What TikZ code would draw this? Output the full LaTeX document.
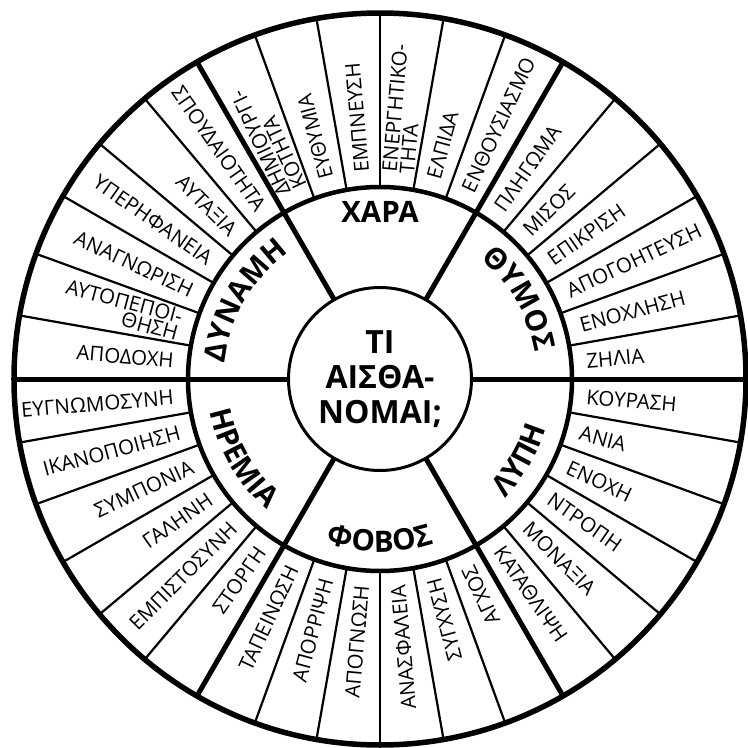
\documentclass[tikz,border=0pt]{standalone}
\usepackage{fontspec}
\setmainfont{Open Sans}
\usetikzlibrary{decorations.text}
\newcommand\midlabfont{\bfseries\fontsize{29.5}{29.5}\selectfont}
\tikzset{
  wedgetxt/.style={font=\fontsize{20.5}{17.5}\selectfont, inner sep=0pt, text=black},
  outtxt/.style={wedgetxt, anchor=west, align=left},
  intxt/.style={wedgetxt, anchor=east, align=right},
  majorline/.style={line width=5pt, black},
  minorline/.style={line width=2.2pt, black},
  midlab/.style={font=\midlabfont, inner sep=0pt},
  toplab/.style={decorate, decoration={text along path, text align=center, text={|\midlabfont|#1}}},
}
\begin{document}
\begin{tikzpicture}[x=1pt,y=1pt]
\useasboundingbox (-380,-369) rectangle (368,379);
\fill[white] (-380,-369) rectangle (368,379);
% minor dividers
\foreach \a in {10,20,30,40,50,70,80,90,100,110,130,140,150,160,170,190,200,210,220,230,250,260,270,280,290,310,320,330,340,350}
  \draw[minorline] (\a:192) -- (\a:366);
% major dividers
\foreach \a in {0,60,120,180,240,300}
  \draw[majorline] (\a:91) -- (\a:366);
% rings
\draw[line width=5.5pt] (0,0) circle[radius=366];
\draw[line width=4.5pt] (0,0) circle[radius=192];
\node[circle, draw, line width=3pt, fill=white, minimum size=183pt, inner sep=0pt, align=center,
      font=\bfseries\fontsize{32}{35}\selectfont] (hub) at (0,0) {ΤΙ\\ΑΙΣΘΑ-\\ΝΟΜΑΙ;};
% middle ring labels
\node[midlab] (chara) at (90:167) {ΧΑΡΑ};
\path[toplab=ΘΥΜΟΣ] (58:157) arc[start angle=58, end angle=2, radius=157];
\path[toplab=ΔΥΝΑΜΗ] (178:156) arc[start angle=178, end angle=122, radius=156];
\path[toplab=ΛΥΠΗ] (-58:173) arc[start angle=-58, end angle=-2, radius=173];
\path[toplab=ΦΟΒΟΣ] (242:173) arc[start angle=242, end angle=298, radius=173];
\path[toplab=ΗΡΕΜΙΑ] (182:173) arc[start angle=182, end angle=238, radius=173];
% ΘΥΜΟΣ
\node[outtxt, rotate=5] (w5) at (5:207) {ΖΗΛΙΑ};
\node[outtxt, rotate=15] (w15) at (15:207) {ΕΝΟΧΛΗΣΗ};
\node[outtxt, rotate=25] (w25) at (25:207) {ΑΠΟΓΟΗΤΕΥΣΗ};
\node[outtxt, rotate=35] (w35) at (35:207) {ΕΠΙΚΡΙΣΗ};
\node[outtxt, rotate=45] (w45) at (45:207) {ΜΙΣΟΣ};
\node[outtxt, rotate=55] (w55) at (55:207) {ΠΛΗΓΩΜΑ};
% ΧΑΡΑ
\node[outtxt, rotate=65] (w65) at (65:207) {ΕΝΘΟΥΣΙΑΣΜΟ};
\node[outtxt, rotate=75] (w75) at (75:207) {ΕΛΠΙΔΑ};
\node[outtxt, rotate=85] (w85) at (85:207) {ΕΝΕΡΓΗΤΙΚΟ-\\ΤΗΤΑ};
\node[outtxt, rotate=95] (w95) at (95:207) {ΕΜΠΝΕΥΣΗ};
\node[outtxt, rotate=105] (w105) at (105:207) {ΕΥΘΥΜΙΑ};
\node[outtxt, rotate=115] (w115) at (115:207) {ΔΗΜΙΟΥΡΓΙ-\\ΚΟΤΗΤΑ};
% ΔΥΝΑΜΗ
\node[intxt, rotate=-55] (w125) at (125:207) {ΣΠΟΥΔΑΙΟΤΗΤΑ};
\node[intxt, rotate=-45] (w135) at (135:207) {ΑΥΤΑΞΙΑ};
\node[intxt, rotate=-35] (w145) at (145:207) {ΥΠΕΡΗΦΑΝΕΙΑ};
\node[intxt, rotate=-25] (w155) at (155:207) {ΑΝΑΓΝΩΡΙΣΗ};
\node[intxt, rotate=-15] (w165) at (165:207) {ΑΥΤΟΠΕΠΟΙ-\\ΘΗΣΗ};
\node[intxt, rotate=-5] (w175) at (175:207) {ΑΠΟΔΟΧΗ};
% ΗΡΕΜΙΑ
\node[intxt, rotate=5] (w185) at (185:207) {ΕΥΓΝΩΜΟΣΥΝΗ};
\node[intxt, rotate=15] (w195) at (195:207) {ΙΚΑΝΟΠΟΙΗΣΗ};
\node[intxt, rotate=25] (w205) at (205:207) {ΣΥΜΠΟΝΙΑ};
\node[intxt, rotate=35] (w215) at (215:207) {ΓΑΛΗΝΗ};
\node[intxt, rotate=45] (w225) at (225:207) {ΕΜΠΙΣΤΟΣΥΝΗ};
\node[intxt, rotate=55] (w235) at (235:207) {ΣΤΟΡΓΗ};
% ΦΟΒΟΣ
\node[intxt, rotate=65] (w245) at (245:207) {ΤΑΠΕΙΝΩΣΗ};
\node[intxt, rotate=75] (w255) at (255:207) {ΑΠΟΡΡΙΨΗ};
\node[intxt, rotate=85] (w265) at (265:207) {ΑΠΟΓΝΩΣΗ};
\node[intxt, rotate=95] (w275) at (275:207) {ΑΝΑΣΦΑΛΕΙΑ};
\node[intxt, rotate=105] (w285) at (285:207) {ΣΥΓΧΥΣΗ};
\node[intxt, rotate=115] (w295) at (295:207) {ΑΓΧΟΣ};
% ΛΥΠΗ
\node[outtxt, rotate=-55] (w305) at (305:207) {ΚΑΤΑΘΛΙΨΗ};
\node[outtxt, rotate=-45] (w315) at (315:207) {ΜΟΝΑΞΙΑ};
\node[outtxt, rotate=-35] (w325) at (325:207) {ΝΤΡΟΠΗ};
\node[outtxt, rotate=-25] (w335) at (335:207) {ΕΝΟΧΗ};
\node[outtxt, rotate=-15] (w345) at (345:207) {ΑΝΙΑ};
\node[outtxt, rotate=-5] (w355) at (355:207) {ΚΟΥΡΑΣΗ};
\end{tikzpicture}
\end{document}
